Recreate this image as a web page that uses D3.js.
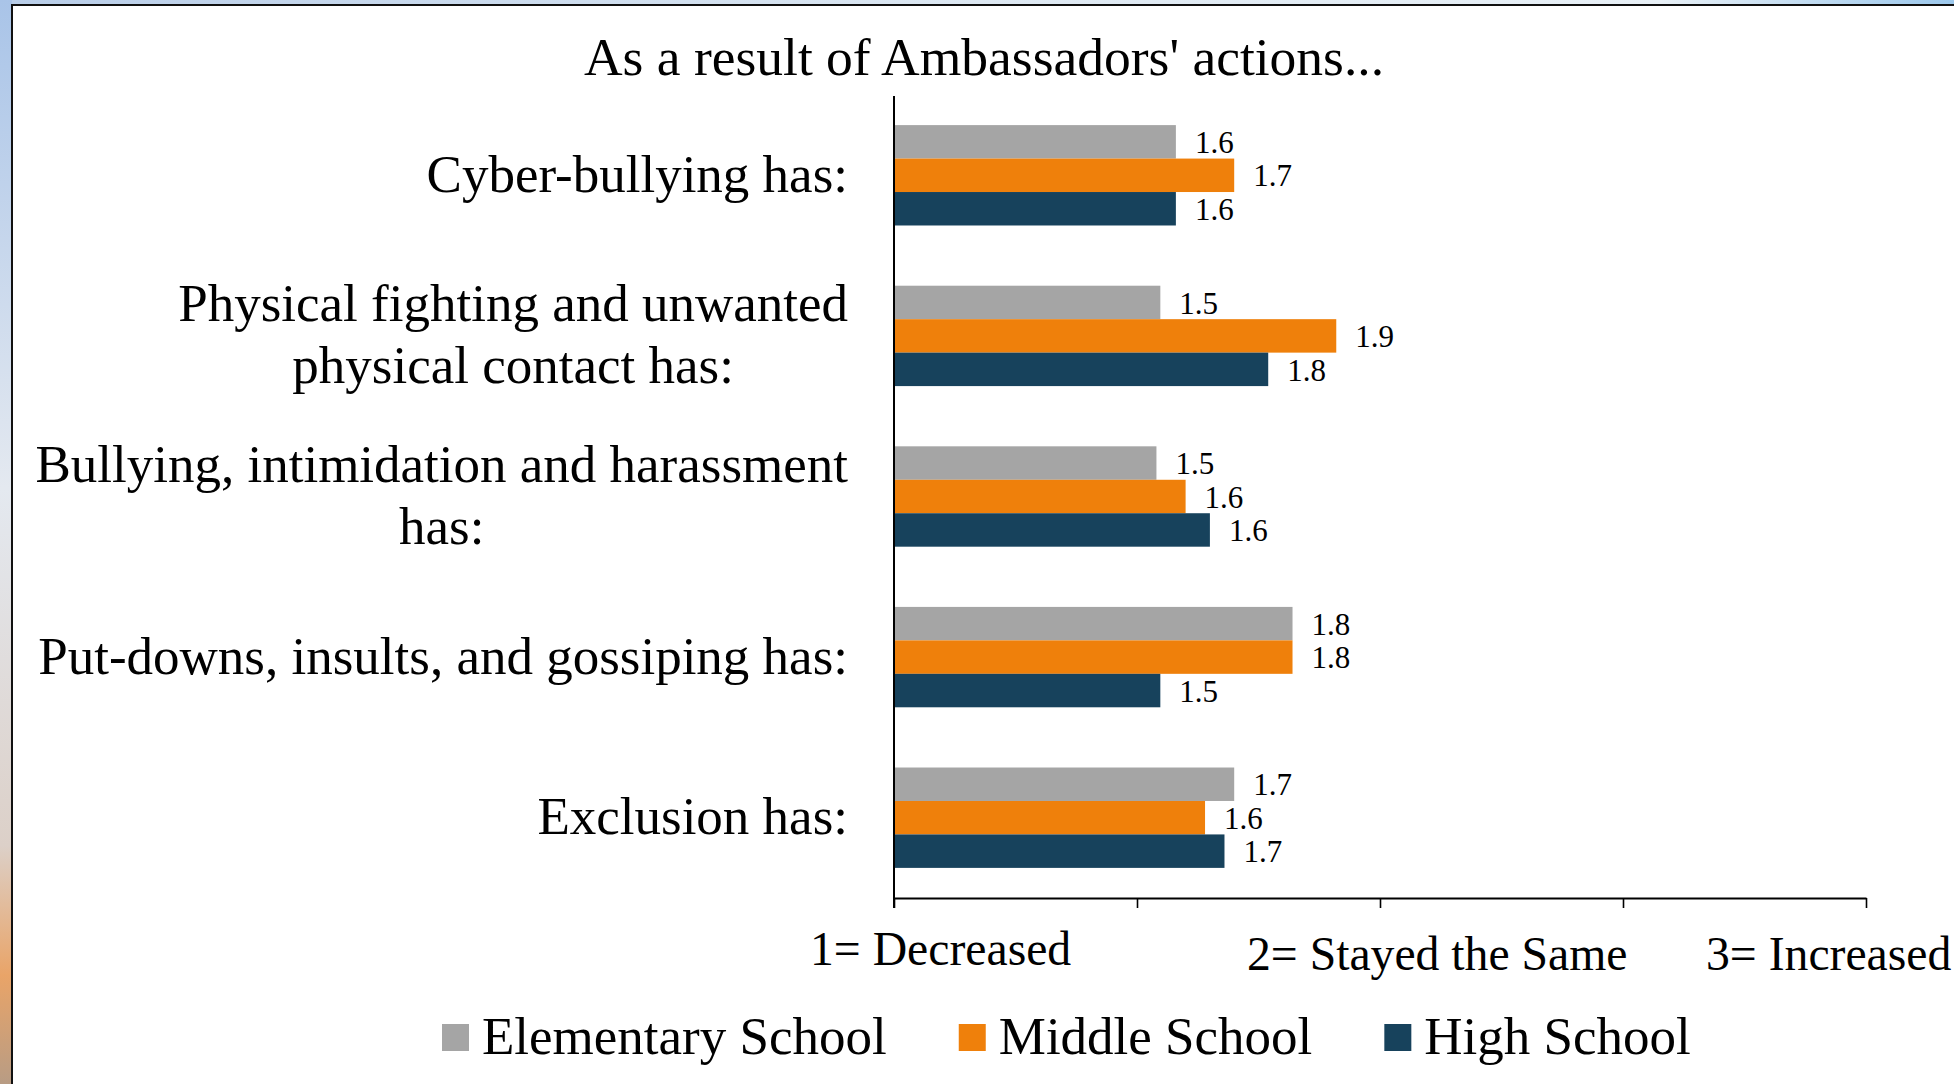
<!DOCTYPE html>
<html>
<head>
<meta charset="utf-8">
<script src="https://cdn.jsdelivr.net/npm/d3@7"></script>
<style>
  html, body { margin: 0; padding: 0; overflow: hidden; background: #fff; }
  svg { display: block; font-family: "Liberation Serif", "Times New Roman", serif; }
</style>
</head>
<body>
<div id="chart"></div>
<script>
// data
const categories = [
  "Cyber-bullying has:",
  "Physical fighting and unwanted\nphysical contact has:",
  "Bullying, intimidation and harassment\nhas:",
  "Put-downs, insults, and gossiping has:",
  "Exclusion has:"
]
const seriesNames = ["Elementary School", "Middle School", "High School"]
const elementary = [1.58, 1.548, 1.54, 1.82, 1.70]
const middle = [1.70, 1.91, 1.60, 1.82, 1.64]
const high = [1.58, 1.77, 1.65, 1.548, 1.68]
const colors = ["#a5a5a5", "#ef800b", "#17425c"]
const xTicks = [1, 1.5, 2, 2.5, 3]
const scaleLabels = ["1= Decreased", "2= Stayed the Same", "3= Increased"]

const width = 1954, height = 1084
const values = [elementary, middle, high]

const svg = d3.select("#chart").append("svg")
    .attr("width", width)
    .attr("height", height)

// backdrop outside the framed slide area
const defs = svg.append("defs")
const lg = defs.append("linearGradient").attr("id", "side").attr("x1", 0).attr("y1", 0).attr("x2", 0).attr("y2", 1)
lg.append("stop").attr("offset", 0).attr("stop-color", "#a9c4e8")
lg.append("stop").attr("offset", 0.45).attr("stop-color", "#e4e9f0")
lg.append("stop").attr("offset", 0.78).attr("stop-color", "#dcd0c8")
lg.append("stop").attr("offset", 0.9).attr("stop-color", "#e9a468")
lg.append("stop").attr("offset", 1).attr("stop-color", "#b89c84")
const tg = defs.append("linearGradient").attr("id", "top").attr("x1", 0).attr("y1", 0).attr("x2", 1).attr("y2", 0)
tg.append("stop").attr("offset", 0).attr("stop-color", "#b8cde8")
tg.append("stop").attr("offset", 0.5).attr("stop-color", "#dde8f2")
tg.append("stop").attr("offset", 0.85).attr("stop-color", "#e8f0f6")
tg.append("stop").attr("offset", 1).attr("stop-color", "#9cc8ec")

svg.append("rect").attr("width", width).attr("height", 5).attr("fill", "url(#top)")
svg.append("rect").attr("width", 12).attr("height", height).attr("fill", "url(#side)")
svg.append("rect")
    .attr("x", 12).attr("y", 5)
    .attr("width", width + 20).attr("height", height + 20)
    .attr("fill", "#fff")
    .attr("stroke", "#111")
    .attr("stroke-width", 2)

// title
svg.append("text")
    .attr("x", 984)
    .attr("y", 75)
    .attr("text-anchor", "middle")
    .style("font-size", "53.5px")
    .text("As a result of Ambassadors' actions...")

const x = d3.scaleLinear()
    .domain([1, 3])
    .range([894, 1866])

const y = d3.scaleBand()
    .domain(categories)
    .range([95, 898])
    .paddingInner(0.375)
    .paddingOuter(0.1875)

const ySub = d3.scaleBand()
    .domain(d3.range(seriesNames.length))
    .range([0, y.bandwidth()])

// bars
const groups = svg.append("g")
  .selectAll("g")
  .data(categories)
  .join("g")
    .attr("transform", d => `translate(0,${y(d)})`)

groups.selectAll("rect")
  .data((d, i) => values.map((s, j) => ({ j, v: s[i] })))
  .join("rect")
    .attr("x", x(1))
    .attr("y", d => ySub(d.j))
    .attr("width", d => x(d.v) - x(1))
    .attr("height", ySub.bandwidth())
    .attr("fill", d => colors[d.j])

groups.selectAll("text")
  .data((d, i) => values.map((s, j) => ({ j, v: s[i] })))
  .join("text")
    .attr("x", d => x(d.v) + 19)
    .attr("y", d => ySub(d.j) + ySub.bandwidth() / 2)
    .attr("dy", "0.36em")
    .style("font-size", "31px")
    .text(d => d3.format(".1f")(d.v))

// x axis
const xAxis = svg.append("g")
    .attr("transform", `translate(0,898)`)
    .call(d3.axisBottom(x).tickValues(xTicks).tickFormat("").tickSize(10).tickSizeOuter(0))
xAxis.select(".domain").attr("stroke", "#000").attr("stroke-width", 2)
xAxis.selectAll(".tick line").attr("stroke", "#000").attr("stroke-width", 1.6)

// y axis line (no ticks)
svg.append("line")
    .attr("x1", x(1)).attr("x2", x(1))
    .attr("y1", 96).attr("y2", 908)
    .attr("stroke", "#000")
    .attr("stroke-width", 2)

// category labels, block right-aligned, lines centred
const labelRight = 848
svg.append("g")
  .selectAll("text")
  .data(categories)
  .join("text")
    .attr("text-anchor", "middle")
    .style("font-size", "53px")
    .each(function(d) {
      const lines = d.split("\n")
      const t = d3.select(this)
      const lh = 62
      const y0 = y(d) + y.bandwidth() / 2 - (lines.length - 1) * lh / 2
      lines.forEach((ln, k) => {
        t.append("tspan").attr("x", 0).attr("y", y0 + k * lh).attr("dy", "0.31em").text(ln)
      })
      const w = d3.max(t.selectAll("tspan").nodes(), n => n.getComputedTextLength())
      t.attr("transform", `translate(${labelRight - w / 2},0)`)
    })

// scale meaning labels under the axis
const scalePos = [[810, 965], [1247, 970], [1706, 970]]
svg.append("g")
  .selectAll("text")
  .data(scaleLabels)
  .join("text")
    .attr("x", (d, i) => scalePos[i][0])
    .attr("y", (d, i) => scalePos[i][1])
    .style("font-size", "47.7px")
    .text(d => d)

// legend
const legend = svg.append("g").attr("transform", "translate(442,1024)")
let lx = 0
seriesNames.forEach((name, i) => {
  legend.append("rect")
      .attr("x", lx).attr("y", 0)
      .attr("width", 27).attr("height", 27)
      .attr("fill", colors[i])
  const t = legend.append("text")
      .attr("x", lx + 40)
      .attr("y", 30)
      .style("font-size", "53px")
      .text(name)
  lx += 40 + t.node().getComputedTextLength() + 72
})
</script>
</body>
</html>
